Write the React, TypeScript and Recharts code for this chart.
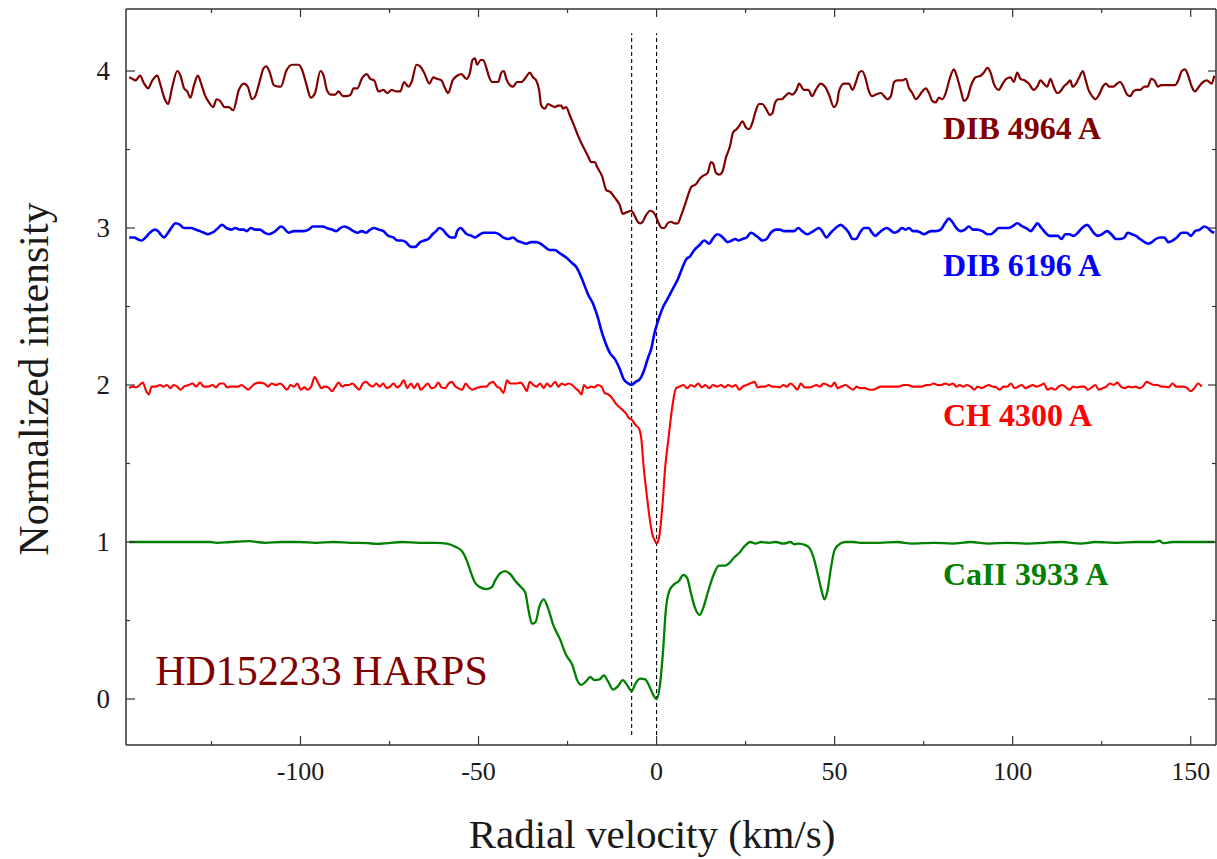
import React from 'react';
import { LineChart, Line, XAxis, YAxis, ReferenceLine, ReferenceDot } from 'recharts';

type Pt = [number, number];

// [radial velocity km/s, normalized intensity + offset]
const DIB4964: Pt[] = [
  [-148.1, 3.96], [-147.2, 3.95], [-146.3, 3.94], [-145.1, 3.97], [-143.9, 3.92], [-142.8, 3.89], [-141.6, 3.94], [-140.2, 3.97],
  [-139.3, 3.91], [-138.1, 3.82], [-137.2, 3.79], [-136.0, 3.9], [-134.6, 4.0], [-133.7, 3.97], [-132.7, 3.89], [-131.8, 3.87],
  [-130.9, 3.83], [-129.9, 3.91], [-128.8, 3.97], [-127.9, 3.92], [-126.9, 3.85], [-125.7, 3.8], [-124.5, 3.77], [-123.6, 3.82],
  [-122.6, 3.81], [-121.3, 3.77], [-120.1, 3.77], [-118.9, 3.75], [-117.3, 3.88], [-115.9, 3.92], [-114.8, 3.9], [-113.6, 3.82],
  [-112.7, 3.84], [-111.4, 3.94], [-110.3, 4.02], [-109.6, 4.03], [-108.6, 3.99], [-107.5, 3.91], [-106.1, 3.9], [-105.5, 3.9],
  [-104.0, 4.0], [-102.4, 4.04], [-100.5, 4.04], [-99.6, 4.01], [-98.4, 3.92], [-97.1, 3.83], [-95.9, 3.86], [-94.4, 4.0],
  [-93.5, 3.97], [-92.6, 3.88], [-91.5, 3.85], [-90.2, 3.85], [-89.3, 3.87], [-88.1, 3.84], [-87.0, 3.84], [-85.9, 3.85],
  [-85.1, 3.89], [-84.0, 3.89], [-82.8, 3.95], [-81.4, 3.98], [-80.4, 3.95], [-79.3, 3.94], [-78.1, 3.87], [-76.7, 3.88],
  [-75.6, 3.86], [-74.4, 3.88], [-73.2, 3.87], [-72.0, 3.87], [-70.9, 3.93], [-69.7, 3.9], [-68.8, 3.93], [-67.4, 4.04],
  [-66.4, 4.03], [-65.3, 3.99], [-63.8, 3.92], [-62.7, 3.96], [-61.6, 3.95], [-60.4, 3.94], [-59.4, 3.89], [-58.5, 3.86],
  [-57.3, 3.94], [-56.0, 3.97], [-54.8, 3.98], [-53.4, 3.95], [-52.4, 3.99], [-51.7, 4.07], [-51.0, 4.08], [-50.4, 4.04],
  [-49.4, 4.07], [-48.7, 4.07], [-47.8, 4.02], [-47.0, 3.96], [-46.1, 3.93], [-44.5, 3.93], [-43.6, 3.99], [-42.9, 4.0],
  [-42.2, 3.95], [-41.2, 3.91], [-40.3, 3.9], [-39.2, 3.93], [-38.0, 3.93], [-36.7, 3.96], [-35.6, 3.99], [-34.7, 3.96],
  [-33.8, 3.94], [-33.0, 3.88], [-32.4, 3.78], [-31.4, 3.76], [-30.5, 3.79], [-29.6, 3.78], [-28.6, 3.77], [-27.7, 3.78],
  [-26.7, 3.78], [-26.3, 3.76], [-25.4, 3.77], [-24.4, 3.72], [-23.3, 3.66], [-22.1, 3.59], [-21.1, 3.54], [-20.2, 3.5],
  [-19.3, 3.46], [-18.3, 3.42], [-17.4, 3.42], [-16.5, 3.38], [-15.3, 3.33], [-14.1, 3.24], [-13.0, 3.23], [-12.3, 3.21],
  [-11.3, 3.18], [-10.4, 3.15], [-9.5, 3.09], [-8.4, 3.1], [-7.1, 3.11], [-6.2, 3.08], [-5.3, 3.04], [-4.6, 3.03],
  [-3.9, 3.04], [-3.0, 3.08], [-1.8, 3.11], [-0.9, 3.1], [-0.1, 3.07], [0.6, 3.03], [1.5, 3.0], [2.2, 3.0],
  [3.1, 3.03], [4.1, 3.04], [5.0, 3.03], [5.9, 3.03], [6.9, 3.08], [8.0, 3.15], [9.0, 3.22], [9.7, 3.26],
  [11.1, 3.28], [12.0, 3.31], [12.9, 3.33], [14.3, 3.35], [15.3, 3.42], [15.9, 3.41], [16.7, 3.35], [17.6, 3.34],
  [18.5, 3.36], [19.5, 3.45], [20.6, 3.52], [21.5, 3.61], [22.5, 3.63], [23.2, 3.65], [24.1, 3.68], [25.1, 3.64],
  [26.0, 3.63], [26.9, 3.67], [27.9, 3.75], [28.8, 3.79], [29.7, 3.79], [30.7, 3.76], [31.8, 3.72], [32.5, 3.73],
  [33.3, 3.8], [34.2, 3.82], [35.1, 3.82], [36.1, 3.84], [37.2, 3.86], [38.1, 3.85], [39.3, 3.88], [40.0, 3.92],
  [41.4, 3.88], [42.6, 3.88], [43.7, 3.84], [44.7, 3.88], [46.1, 3.92], [47.3, 3.9], [48.4, 3.85], [49.8, 3.77],
  [50.7, 3.8], [51.2, 3.87], [52.6, 3.92], [54.0, 3.92], [55.0, 3.88], [56.0, 3.93], [56.9, 3.99], [57.7, 4.0],
  [58.6, 3.96], [59.5, 3.88], [60.5, 3.84], [61.6, 3.85], [63.0, 3.86], [63.9, 3.84], [64.8, 3.82], [65.8, 3.84],
  [66.7, 3.93], [67.6, 3.94], [69.0, 3.94], [70.0, 3.95], [70.9, 3.89], [71.8, 3.86], [72.8, 3.82], [73.7, 3.84],
  [74.6, 3.87], [75.6, 3.89], [76.5, 3.86], [77.4, 3.81], [78.4, 3.8], [79.3, 3.83], [80.2, 3.82], [81.2, 3.86],
  [82.3, 3.95], [83.5, 4.01], [84.4, 3.96], [85.4, 3.88], [86.3, 3.81], [87.3, 3.83], [88.2, 3.9], [89.6, 3.96],
  [91.0, 3.97], [91.9, 3.99], [92.9, 4.02], [93.8, 3.99], [94.7, 3.92], [96.1, 3.88], [97.2, 3.92], [98.2, 3.95],
  [99.4, 3.96], [100.3, 3.93], [101.3, 3.99], [102.2, 3.95], [103.4, 3.94], [104.5, 3.92], [105.9, 3.88], [106.9, 3.9],
  [107.8, 3.94], [108.7, 3.92], [109.7, 3.9], [110.6, 3.95], [111.5, 3.9], [112.5, 3.86], [113.4, 3.87], [114.3, 3.9],
  [115.3, 3.92], [116.2, 3.94], [116.8, 3.9], [117.8, 3.92], [118.7, 3.96], [119.7, 4.0], [120.4, 3.95], [121.3, 3.88],
  [122.3, 3.84], [123.2, 3.82], [124.3, 3.85], [125.3, 3.9], [126.2, 3.92], [127.1, 3.9], [128.3, 3.9], [129.3, 3.92],
  [130.2, 3.93], [131.1, 3.9], [132.1, 3.85], [133.0, 3.84], [133.9, 3.87], [134.9, 3.88], [135.8, 3.88], [137.0, 3.9],
  [137.9, 3.9], [138.9, 3.95], [139.8, 3.94], [140.8, 3.9], [141.7, 3.91], [143.0, 3.91], [144.2, 3.91], [145.6, 3.91],
  [146.5, 3.94], [147.5, 4.0], [148.4, 4.01], [149.3, 3.97], [150.3, 3.9], [151.2, 3.87], [152.3, 3.9], [153.5, 3.93],
  [154.5, 3.94], [155.9, 3.92], [156.6, 3.97],
];

const DIB6196: Pt[] = [
  [-148.1, 2.94], [-146.7, 2.94], [-145.8, 2.93], [-144.7, 2.92], [-143.5, 2.94], [-142.3, 2.97], [-140.9, 2.99], [-140.0, 2.98],
  [-139.3, 2.96], [-138.3, 2.94], [-137.2, 2.97], [-136.3, 3.0], [-135.1, 3.03], [-133.8, 3.02], [-132.7, 3.0], [-131.8, 3.0],
  [-130.7, 3.0], [-129.5, 2.99], [-128.2, 2.98], [-127.1, 2.97], [-126.0, 2.96], [-124.8, 2.97], [-123.6, 2.99], [-122.0, 3.02],
  [-120.8, 3.0], [-119.5, 2.99], [-118.3, 3.0], [-117.0, 2.99], [-115.9, 2.99], [-115.2, 2.98], [-113.9, 3.0], [-112.7, 2.99],
  [-111.4, 2.99], [-110.1, 2.97], [-108.9, 2.96], [-107.7, 2.97], [-106.6, 2.99], [-105.5, 3.01], [-104.7, 3.0], [-103.3, 2.97],
  [-101.9, 2.98], [-100.5, 2.98], [-99.1, 2.98], [-97.7, 2.99], [-96.5, 3.01], [-95.2, 3.01], [-93.7, 3.01], [-92.6, 3.0],
  [-91.2, 2.99], [-89.9, 2.98], [-88.8, 3.0], [-87.7, 3.01], [-86.5, 3.0], [-85.1, 2.98], [-84.0, 2.97], [-82.8, 2.98],
  [-81.6, 2.97], [-80.4, 2.99], [-79.3, 3.0], [-78.1, 2.99], [-76.7, 2.98], [-75.3, 2.95], [-73.9, 2.94], [-72.8, 2.92],
  [-71.6, 2.92], [-70.4, 2.91], [-69.0, 2.88], [-67.8, 2.88], [-66.4, 2.91], [-65.3, 2.92], [-64.1, 2.93], [-62.9, 2.96],
  [-61.9, 2.98], [-61.0, 3.0], [-60.1, 2.99], [-59.0, 2.96], [-57.8, 2.94], [-56.6, 2.94], [-56.0, 2.98], [-55.0, 3.0],
  [-54.1, 2.98], [-53.2, 2.96], [-51.9, 2.95], [-51.0, 2.94], [-49.6, 2.96], [-48.5, 2.97], [-46.8, 2.97], [-45.4, 2.97],
  [-44.2, 2.96], [-43.1, 2.94], [-41.7, 2.93], [-40.3, 2.94], [-39.2, 2.92], [-38.0, 2.91], [-36.6, 2.9], [-35.2, 2.91],
  [-33.8, 2.91], [-32.6, 2.9], [-31.4, 2.88], [-30.0, 2.86], [-28.6, 2.86], [-27.2, 2.84], [-25.3, 2.81], [-23.9, 2.78],
  [-22.5, 2.75], [-21.6, 2.71], [-20.5, 2.65], [-19.3, 2.58], [-17.7, 2.51], [-16.5, 2.43], [-15.3, 2.33], [-14.2, 2.26],
  [-13.0, 2.2], [-11.7, 2.165], [-10.3, 2.1], [-9.3, 2.04], [-8.0, 2.01], [-7.0, 2.0], [-5.9, 2.02], [-4.6, 2.04],
  [-3.4, 2.1], [-2.3, 2.18], [-1.5, 2.23], [-0.6, 2.33], [0.3, 2.4], [1.5, 2.48], [3.1, 2.55], [4.5, 2.61],
  [5.9, 2.67], [7.3, 2.75], [8.3, 2.8], [9.4, 2.82], [10.6, 2.86], [12.0, 2.89], [13.4, 2.92], [14.8, 2.9],
  [15.7, 2.93], [17.1, 2.96], [18.1, 2.95], [19.0, 2.93], [19.9, 2.91], [21.1, 2.92], [22.1, 2.93], [23.0, 2.92],
  [24.1, 2.93], [25.3, 2.94], [26.5, 2.97], [27.4, 2.96], [28.6, 2.94], [29.7, 2.92], [30.9, 2.93], [32.1, 2.97],
  [33.5, 2.99], [34.6, 2.99], [35.8, 2.98], [37.2, 2.98], [38.6, 2.98], [39.8, 3.0], [40.9, 2.98], [42.3, 2.96],
  [43.3, 2.97], [44.7, 2.99], [45.6, 3.0], [46.5, 2.98], [47.7, 2.94], [48.9, 2.97], [50.3, 3.0], [51.7, 3.02],
  [52.9, 3.0], [54.0, 2.97], [55.0, 2.93], [56.0, 2.93], [57.1, 2.97], [58.3, 3.0], [59.5, 3.0], [60.5, 2.97],
  [61.4, 2.95], [62.5, 2.97], [63.6, 2.99], [64.6, 3.0], [65.5, 2.99], [66.7, 2.97], [67.9, 2.98], [68.9, 3.0],
  [70.0, 2.99], [70.9, 3.0], [72.0, 2.98], [73.0, 2.98], [74.2, 2.97], [75.1, 2.96], [76.0, 2.97], [77.0, 2.98],
  [78.4, 2.98], [79.8, 2.99], [81.0, 3.03], [82.1, 3.06], [83.0, 3.04], [84.2, 3.0], [85.4, 2.98], [86.6, 2.99],
  [87.7, 3.01], [88.8, 2.99], [90.1, 2.99], [91.5, 2.98], [92.9, 2.96], [93.8, 2.96], [95.0, 2.98], [96.1, 3.0],
  [97.5, 3.0], [98.7, 3.0], [99.9, 3.01], [101.3, 3.03], [102.7, 3.01], [103.8, 3.0], [105.0, 2.98], [106.2, 3.01],
  [106.9, 3.03], [108.1, 3.0], [109.2, 2.97], [110.3, 2.95], [111.5, 2.95], [112.7, 2.95], [113.7, 2.93], [114.8, 2.96],
  [115.9, 2.96], [117.1, 2.95], [118.3, 2.97], [119.5, 3.0], [120.9, 3.02], [121.8, 3.0], [122.7, 2.97], [123.9, 2.95],
  [125.1, 2.96], [126.5, 2.98], [127.7, 2.96], [129.0, 2.93], [130.2, 2.93], [131.4, 2.94], [132.3, 2.97], [133.5, 2.96],
  [134.6, 2.95], [135.8, 2.93], [137.0, 2.91], [138.1, 2.9], [139.1, 2.91], [140.2, 2.93], [141.4, 2.94], [142.6, 2.94],
  [143.7, 2.91], [144.9, 2.92], [146.1, 2.94], [147.5, 2.97], [148.9, 2.97], [150.1, 2.95], [151.2, 2.98], [152.6, 2.99],
  [153.8, 3.01], [154.8, 3.0], [155.7, 2.98], [156.6, 2.97],
];

const CH4300: Pt[] = [
  [-148.1, 1.98], [-147.2, 1.99], [-146.2, 1.985], [-145.2, 2.0], [-144.3, 2.015], [-143.3, 1.96], [-142.6, 1.94], [-141.8, 1.99],
  [-140.7, 1.99], [-139.4, 2.0], [-138.5, 1.99], [-137.5, 2.0], [-136.5, 1.98], [-135.6, 2.0], [-134.6, 1.99], [-133.7, 1.97],
  [-132.7, 1.99], [-131.4, 2.0], [-130.3, 2.01], [-129.3, 1.99], [-128.2, 2.015], [-127.2, 1.99], [-125.9, 1.99], [-124.7, 2.0],
  [-123.7, 1.985], [-122.6, 2.01], [-121.6, 2.01], [-120.6, 1.985], [-119.7, 1.99], [-118.5, 1.99], [-117.5, 1.99], [-116.6, 2.0],
  [-115.6, 1.985], [-114.7, 1.97], [-113.7, 1.99], [-112.7, 2.01], [-111.5, 2.015], [-110.2, 2.01], [-109.1, 1.99], [-108.1, 2.01],
  [-106.9, 2.0], [-105.7, 2.01], [-104.7, 1.99], [-103.8, 1.97], [-102.8, 2.0], [-101.8, 1.99], [-100.9, 2.01], [-99.9, 1.97],
  [-98.9, 1.985], [-98.0, 1.97], [-97.0, 1.99], [-96.0, 2.05], [-95.1, 2.015], [-94.1, 1.98], [-93.2, 1.99], [-92.2, 1.985],
  [-91.2, 1.96], [-90.3, 1.985], [-89.3, 2.015], [-88.3, 1.99], [-87.4, 2.0], [-86.4, 2.0], [-85.4, 2.01], [-84.5, 1.99],
  [-83.5, 1.97], [-82.5, 2.01], [-81.6, 2.02], [-80.6, 2.0], [-79.6, 1.99], [-78.7, 2.01], [-77.7, 1.99], [-76.8, 2.01],
  [-75.8, 1.98], [-74.8, 1.99], [-73.9, 2.01], [-72.9, 1.985], [-71.9, 2.0], [-71.0, 2.03], [-70.0, 1.98], [-69.0, 2.01],
  [-68.1, 1.98], [-67.1, 2.01], [-66.2, 1.97], [-65.2, 1.99], [-64.2, 2.01], [-63.3, 1.98], [-62.3, 1.985], [-61.3, 2.015],
  [-60.4, 1.985], [-59.4, 1.98], [-58.4, 2.01], [-57.5, 2.02], [-56.5, 1.99], [-55.7, 1.98], [-54.6, 1.97], [-53.6, 2.01],
  [-52.7, 1.985], [-51.7, 1.97], [-50.7, 1.98], [-49.8, 1.985], [-48.8, 1.99], [-47.8, 1.99], [-46.9, 2.01], [-45.9, 2.02],
  [-44.9, 1.99], [-44.0, 1.98], [-43.0, 1.95], [-42.0, 2.03], [-41.1, 2.01], [-40.1, 2.01], [-39.1, 2.01], [-38.2, 2.015],
  [-37.2, 1.99], [-36.5, 1.96], [-35.6, 2.02], [-34.6, 2.0], [-33.7, 1.99], [-32.7, 2.01], [-31.7, 1.98], [-30.8, 2.01],
  [-29.8, 1.99], [-28.5, 2.02], [-27.6, 1.99], [-26.6, 2.01], [-25.7, 2.0], [-24.7, 2.01], [-23.7, 2.0], [-22.8, 1.98],
  [-21.8, 1.96], [-21.1, 1.94], [-20.4, 2.0], [-19.4, 1.98], [-18.4, 1.99], [-17.5, 1.985], [-16.5, 2.0], [-15.5, 1.99],
  [-14.6, 1.95], [-13.6, 1.94], [-12.6, 1.92], [-11.7, 1.89], [-10.5, 1.86], [-9.5, 1.84], [-8.6, 1.82], [-7.8, 1.79],
  [-7.0, 1.78], [-5.9, 1.745], [-4.9, 1.72], [-4.3, 1.66], [-3.6, 1.47], [-2.7, 1.29], [-2.0, 1.16], [-1.2, 1.05],
  [-0.5, 1.01], [0.0, 0.99], [0.7, 1.03], [1.6, 1.22], [2.4, 1.47], [3.4, 1.67], [4.4, 1.86], [5.5, 1.98],
  [6.5, 1.99], [7.5, 2.0], [8.6, 1.98], [9.6, 2.0], [10.6, 1.99], [11.7, 2.01], [12.7, 1.985], [13.7, 2.0],
  [14.8, 1.98], [15.8, 2.0], [17.0, 1.99], [18.1, 2.0], [19.1, 1.985], [20.1, 2.0], [21.2, 1.99], [22.2, 2.0],
  [23.2, 1.97], [24.2, 1.99], [25.3, 2.0], [26.3, 2.01], [27.5, 2.02], [28.4, 1.985], [29.4, 1.99], [30.4, 1.99],
  [31.5, 2.0], [32.5, 1.99], [33.5, 1.99], [34.6, 1.985], [35.6, 2.0], [36.6, 1.99], [37.6, 2.01], [38.7, 1.99],
  [39.5, 1.97], [40.5, 2.01], [41.6, 1.985], [42.8, 1.985], [43.8, 1.99], [44.9, 2.0], [45.9, 1.99], [46.9, 2.01],
  [48.0, 2.0], [49.0, 1.99], [50.0, 2.015], [50.8, 1.98], [51.9, 1.99], [53.1, 2.0], [54.1, 1.985], [55.2, 1.97],
  [56.2, 1.99], [57.2, 1.98], [58.5, 1.98], [59.8, 1.97], [60.8, 1.97], [61.9, 1.98], [62.9, 1.99], [64.2, 1.99],
  [65.5, 1.99], [66.7, 1.99], [68.0, 1.99], [69.4, 2.0], [70.6, 2.0], [71.9, 1.99], [73.2, 1.99], [74.5, 1.99],
  [75.8, 2.0], [76.8, 2.0], [77.8, 2.01], [78.9, 2.0], [79.9, 2.0], [81.1, 2.01], [82.2, 2.0], [83.2, 2.01],
  [84.2, 1.99], [85.1, 2.0], [86.1, 1.99], [87.1, 2.0], [88.2, 1.99], [89.2, 1.97], [90.2, 1.99], [91.3, 1.98],
  [92.3, 1.99], [93.3, 2.0], [94.3, 1.99], [95.4, 1.985], [96.4, 1.97], [97.4, 1.99], [98.5, 1.99], [99.5, 2.01],
  [100.5, 1.98], [101.6, 1.99], [102.6, 2.0], [103.6, 1.98], [104.6, 1.99], [105.7, 2.0], [106.7, 1.99], [108.0, 2.0],
  [108.8, 2.01], [109.8, 1.97], [110.8, 1.98], [111.9, 1.97], [112.9, 1.99], [113.9, 2.0], [115.0, 1.985], [116.0, 1.97],
  [117.0, 1.99], [118.1, 1.985], [119.1, 1.99], [120.1, 1.99], [121.1, 1.97], [122.2, 1.985], [123.2, 2.0], [124.2, 1.97],
  [125.3, 1.98], [126.3, 1.99], [127.3, 2.01], [128.4, 2.0], [129.4, 2.015], [130.4, 1.99], [131.5, 1.98], [132.5, 1.99],
  [133.5, 1.985], [134.5, 1.99], [135.6, 1.98], [136.6, 1.99], [137.6, 2.02], [138.7, 2.01], [139.7, 2.0], [140.7, 2.0],
  [141.8, 1.99], [142.8, 1.99], [143.8, 1.985], [144.9, 2.01], [145.9, 1.99], [146.9, 1.99], [147.9, 1.99], [149.0, 1.98],
  [150.0, 1.96], [151.0, 1.98], [152.1, 2.01], [153.1, 1.99],
];

const CAII3933: Pt[] = [
  [-148.1, 1.0], [-143.8, 1.0], [-139.0, 1.0], [-134.1, 1.0], [-129.3, 1.0], [-125.5, 1.0], [-123.5, 0.995], [-119.7, 1.0],
  [-114.4, 1.005], [-110.0, 0.995], [-105.2, 1.0], [-100.4, 1.0], [-95.6, 0.995], [-90.7, 1.0], [-86.0, 0.995], [-81.1, 0.993],
  [-78.7, 0.988], [-75.3, 0.993], [-71.5, 1.0], [-66.6, 0.995], [-61.8, 0.995], [-58.9, 0.99], [-56.5, 0.97], [-54.6, 0.94],
  [-53.1, 0.87], [-52.2, 0.81], [-51.2, 0.75], [-49.8, 0.715], [-47.8, 0.7], [-46.4, 0.71], [-45.2, 0.76], [-44.0, 0.8],
  [-42.5, 0.815], [-41.1, 0.795], [-39.6, 0.75], [-38.2, 0.715], [-36.9, 0.68], [-36.0, 0.57], [-35.0, 0.48], [-34.0, 0.49],
  [-32.9, 0.59], [-31.7, 0.635], [-30.5, 0.58], [-29.0, 0.47], [-27.1, 0.38], [-25.4, 0.28], [-23.7, 0.22], [-22.3, 0.12],
  [-21.1, 0.09], [-19.9, 0.11], [-18.6, 0.14], [-17.5, 0.12], [-16.0, 0.125], [-14.8, 0.15], [-13.6, 0.11], [-12.2, 0.06],
  [-10.9, 0.08], [-9.5, 0.12], [-8.3, 0.09], [-7.0, 0.05], [-5.9, 0.1], [-4.6, 0.13], [-3.2, 0.125], [-2.0, 0.08],
  [-0.9, 0.025], [0.0, 0.0], [0.9, 0.08], [1.8, 0.3], [2.6, 0.567], [3.6, 0.69], [4.9, 0.73], [6.2, 0.75],
  [7.5, 0.79], [8.6, 0.77], [9.6, 0.68], [10.8, 0.58], [12.1, 0.535], [13.1, 0.58], [14.4, 0.68], [16.0, 0.79],
  [17.5, 0.85], [19.3, 0.85], [20.6, 0.87], [21.7, 0.9], [23.2, 0.93], [24.8, 0.975], [26.3, 1.0], [27.8, 0.99],
  [29.4, 1.0], [31.5, 0.995], [33.5, 1.0], [35.6, 0.99], [37.6, 1.0], [38.7, 0.985], [39.9, 0.99], [41.8, 0.98],
  [43.0, 0.96], [44.3, 0.885], [45.4, 0.78], [46.4, 0.685], [47.1, 0.635], [48.0, 0.69], [49.0, 0.84], [50.0, 0.95],
  [51.6, 0.99], [53.1, 1.0], [55.2, 1.0], [57.2, 0.995], [62.4, 0.995], [67.5, 1.0], [71.7, 0.99], [77.8, 0.995],
  [83.0, 0.99], [88.2, 1.0], [93.3, 0.99], [98.5, 0.995], [103.6, 0.99], [108.8, 0.995], [113.9, 1.0], [119.1, 0.99],
  [123.2, 1.0], [129.4, 0.995], [134.5, 1.0], [139.7, 1.0], [141.2, 1.008], [142.3, 0.993], [144.8, 1.0], [150.0, 1.0],
  [156.7, 1.0],
];

const X_DOMAIN: [number, number] = [-149, 157.1];
const Y_DOMAIN: [number, number] = [-0.293, 4.395];
const X_TICKS = [-125, -100, -75, -50, -25, 0, 25, 50, 75, 100, 125, 150];
const Y_TICKS = [0, 0.5, 1, 1.5, 2, 2.5, 3, 3.5, 4];
// dashed markers for the two cloud velocities
const MARKERS = [-7, 0];
const MARKER_SPAN: [number, number] = [-0.23, 4.24];

const SERIES = [
  { name: 'DIB 4964 A', data: DIB4964, color: '#800000', width: 2.2, labelY: 3.565 },
  { name: 'DIB 6196 A', data: DIB6196, color: '#0000ff', width: 2.6, labelY: 2.694 },
  { name: 'CH 4300 A', data: CH4300, color: '#ff0000', width: 2.1, labelY: 1.739 },
  { name: 'CaII 3933 A', data: CAII3933, color: '#008000', width: 2.3, labelY: 0.726 },
];
const LABEL_X = 80.4;

const FONT = '"Liberation Serif", "Times New Roman", serif';
const AXIS = '#333';
const TICK_GAP = 10;

const isMajorX = (v: number) => Math.abs(v % 50) < 1e-6;
const isMajorY = (v: number) => Math.abs(v % 1) < 1e-6;

function BottomTick(props: any) {
  const { x, y, payload } = props;
  const axisY = y - TICK_GAP;
  const major = isMajorX(payload.value);
  return (
    <g>
      <line x1={x} x2={x} y1={axisY} y2={axisY - (major ? 9 : 4)} stroke={AXIS} strokeWidth={1.2} />
      {major && (
        <text x={x} y={axisY + 35} textAnchor="middle" fontSize={26} fontFamily={FONT} fill="#1a1a1a">
          {payload.value}
        </text>
      )}
    </g>
  );
}

function TopTick(props: any) {
  const { x, y, payload } = props;
  const axisY = y + TICK_GAP;
  const major = isMajorX(payload.value);
  return <line x1={x} x2={x} y1={axisY} y2={axisY + (major ? 8 : 4)} stroke={AXIS} strokeWidth={1.2} />;
}

function LeftTick(props: any) {
  const { x, y, payload } = props;
  const axisX = x + TICK_GAP;
  const major = isMajorY(payload.value);
  return (
    <g>
      <line x1={axisX} x2={axisX + (major ? 9 : 4)} y1={y} y2={y} stroke={AXIS} strokeWidth={1.2} />
      {major && (
        <text x={axisX - 16} y={y + 9} textAnchor="end" fontSize={27} fontFamily={FONT} fill="#1a1a1a">
          {payload.value}
        </text>
      )}
    </g>
  );
}

function RightTick(props: any) {
  const { x, y, payload } = props;
  const axisX = x - TICK_GAP;
  const major = isMajorY(payload.value);
  return <line x1={axisX} x2={axisX - (major ? 8 : 4)} y1={y} y2={y} stroke={AXIS} strokeWidth={1.2} />;
}

const textLabel = (value: string, size: number, color: string, weight: string | number) => (props: any) => {
  const vb = props.viewBox || {};
  return (
    <text x={vb.x} y={vb.y} fontSize={size} fill={color} fontWeight={weight} fontFamily={FONT}>
      {value}
    </text>
  );
};

const xTitle = (props: any) => {
  const vb = props.viewBox;
  return (
    <text x={vb.x + vb.width / 2 - 19} y={vb.y + 103} textAnchor="middle" fontSize={41} fontFamily={FONT} fill="#1a1a1a">
      Radial velocity (km/s)
    </text>
  );
};

const yTitle = (props: any) => {
  const vb = props.viewBox;
  const cx = vb.x + 48;
  const cy = vb.y + vb.height / 2 + 2;
  return (
    <text x={cx} y={cy} transform={`rotate(-90, ${cx}, ${cy})`} textAnchor="middle" fontSize={42} fontFamily={FONT} fill="#1a1a1a">
      Normalized intensity
    </text>
  );
};

export default function App() {
  return (
    <div style={{ position: 'absolute', left: 0, top: 0, width: 1217, height: 859, background: '#fff' }}>
      <LineChart width={1217} height={859} margin={{ top: 8, right: 0, bottom: 0, left: 0 }}>
        <XAxis
          xAxisId="b"
          type="number"
          dataKey="v"
          domain={X_DOMAIN}
          allowDataOverflow
          ticks={X_TICKS}
          interval={0}
          height={114}
          tickSize={0}
          tickMargin={TICK_GAP}
          tickLine={false}
          tick={(p: any) => <BottomTick {...p} />}
          axisLine={{ stroke: AXIS, strokeWidth: 1.5 }}
          label={xTitle}
        />
        <XAxis
          xAxisId="t"
          orientation="top"
          type="number"
          dataKey="v"
          domain={X_DOMAIN}
          allowDataOverflow
          ticks={X_TICKS}
          interval={0}
          height={1}
          tickSize={0}
          tickMargin={TICK_GAP}
          tickLine={false}
          tick={(p: any) => <TopTick {...p} />}
          axisLine={{ stroke: AXIS, strokeWidth: 1.5 }}
        />
        <YAxis
          yAxisId="l"
          type="number"
          domain={Y_DOMAIN}
          allowDataOverflow
          ticks={Y_TICKS}
          interval={0}
          width={126}
          tickSize={0}
          tickMargin={TICK_GAP}
          tickLine={false}
          tick={(p: any) => <LeftTick {...p} />}
          axisLine={{ stroke: AXIS, strokeWidth: 1.5 }}
          label={yTitle}
        />
        <YAxis
          yAxisId="r"
          orientation="right"
          type="number"
          domain={Y_DOMAIN}
          allowDataOverflow
          ticks={Y_TICKS}
          interval={0}
          width={1}
          tickSize={0}
          tickMargin={TICK_GAP}
          tickLine={false}
          tick={(p: any) => <RightTick {...p} />}
          axisLine={{ stroke: AXIS, strokeWidth: 1.5 }}
        />

        {MARKERS.map((m) => (
          <ReferenceLine
            key={m}
            xAxisId="b"
            yAxisId="l"
            segment={[{ x: m, y: MARKER_SPAN[0] }, { x: m, y: MARKER_SPAN[1] }]}
            stroke="#000"
            strokeWidth={1.1}
            strokeDasharray="4 3"
          />
        ))}

        {SERIES.map((s) => (
          <Line
            key={s.name}
            xAxisId="b"
            yAxisId="l"
            data={s.data.map(([v, f]) => ({ v, f }))}
            dataKey="f"
            type="monotone"
            stroke={s.color}
            strokeWidth={s.width}
            dot={false}
            activeDot={false}
            isAnimationActive={false}
          />
        ))}

        {SERIES.map((s) => (
          <ReferenceDot
            key={`lbl-${s.name}`}
            xAxisId="b"
            yAxisId="l"
            x={LABEL_X}
            y={s.labelY}
            r={0}
            fill="none"
            stroke="none"
            label={textLabel(s.name, 32, s.color, 'bold')}
          />
        ))}
        <ReferenceDot
          xAxisId="b"
          yAxisId="l"
          x={-140.8}
          y={0.089}
          r={0}
          fill="none"
          stroke="none"
          label={textLabel('HD152233 HARPS', 42, '#800000', 'normal')}
        />
      </LineChart>
    </div>
  );
}
